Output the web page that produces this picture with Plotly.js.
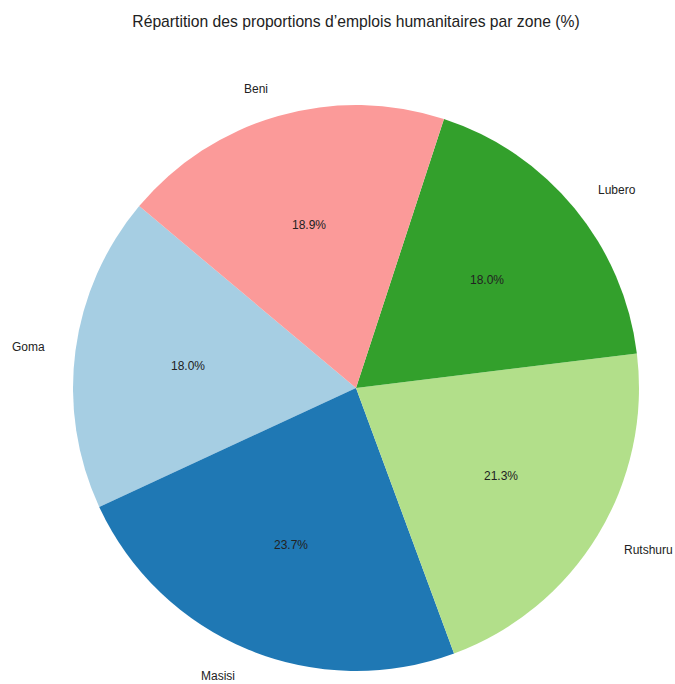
<!DOCTYPE html>
<html>
<head>
<meta charset="utf-8">
<script src="https://cdn.plot.ly/plotly-3.0.1.min.js"></script>
<style>html,body{margin:0;padding:0;background:#fff;}#chart{width:675px;height:684px;}</style>
</head>
<body>
<div id="chart"></div>
<script>
const zones = ["Goma", "Masisi", "Rutshuru", "Lubero", "Beni"];
const shares = [18.0, 23.7, 21.3, 18.0, 18.9];
const colors = ["#a6cee3", "#1f78b4", "#b2df8a", "#33a02c", "#fb9a99"];

const W = 675, H = 684;
const cx = 356, cy = 388, R = 283;
const startAngle = 140; // degrees, counterclockwise from 3 o'clock

const total = shares.reduce((a, b) => a + b, 0);
const annotations = [];
let acc = 0;
shares.forEach((v, i) => {
  const mid = (startAngle + (acc + v / 2) / total * 360) * Math.PI / 180;
  acc += v;
  const lx = cx + 1.1 * R * Math.cos(mid), ly = cy - 1.1 * R * Math.sin(mid);
  const px = cx + 0.6 * R * Math.cos(mid), py = cy - 0.6 * R * Math.sin(mid);
  annotations.push({
    x: lx / W, y: 1 - ly / H, xref: "paper", yref: "paper",
    text: zones[i], showarrow: false,
    xanchor: Math.cos(mid) > 0.01 ? "left" : (Math.cos(mid) < -0.01 ? "right" : "center"),
    yanchor: "middle",
    font: {family: "Liberation Sans, Arial, sans-serif", size: 12, color: "#222"}
  });
  annotations.push({
    x: px / W, y: 1 - py / H, xref: "paper", yref: "paper",
    text: (v / total * 100).toFixed(1) + "%", showarrow: false,
    xanchor: "center", yanchor: "middle",
    font: {family: "Liberation Sans, Arial, sans-serif", size: 12, color: "#222"}
  });
});

// Plotly's counterclockwise pies end the first slice at `rotation`
const rotation = -(startAngle - 90) - shares[0] / total * 360;

const data = [{
  type: "pie",
  labels: zones,
  values: shares,
  sort: false,
  direction: "counterclockwise",
  rotation: rotation,
  marker: {colors: colors, line: {width: 0}},
  textinfo: "none",
  hoverinfo: "label+percent",
  showlegend: false,
  domain: {x: [(cx - R) / W, (cx + R) / W], y: [1 - (cy + R) / H, 1 - (cy - R) / H]}
}];

const layout = {
  width: W, height: H,
  margin: {l: 0, r: 0, t: 0, b: 0},
  paper_bgcolor: "#fff",
  title: {
    text: "Répartition des proportions d’emplois humanitaires par zone (%)",
    x: cx / W, xanchor: "center", y: 1 - 22 / H, yanchor: "middle",
    font: {family: "Liberation Sans, Arial, sans-serif", size: 15.7, color: "#222"}
  },
  annotations: annotations
};

Plotly.newPlot("chart", data, layout, {displayModeBar: false, staticPlot: true});
</script>
</body>
</html>
